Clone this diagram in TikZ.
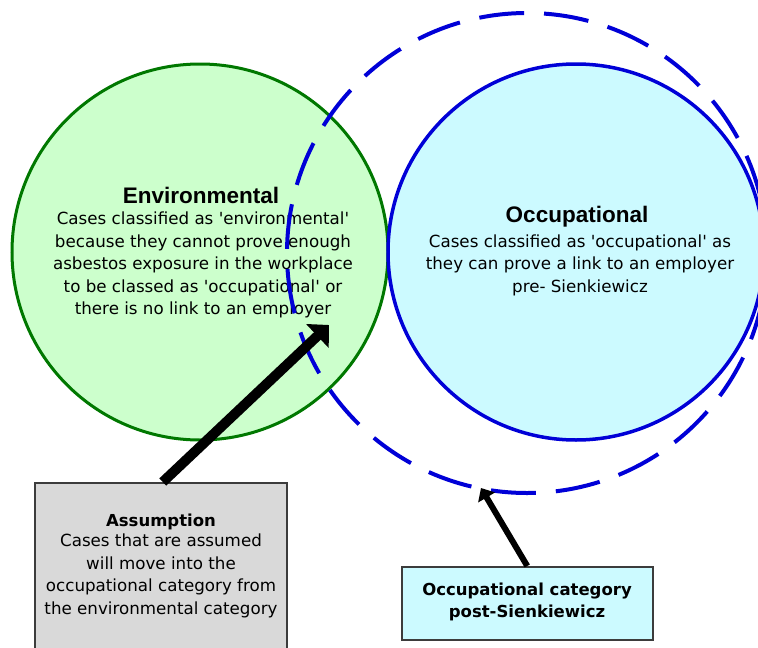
\documentclass[tikz,border=0pt]{standalone}
\usepackage{fontspec}
\setmainfont{DejaVu Sans}[Ligatures=TeXOff]
\newfontfamily\headfont{Liberation Sans}
\usetikzlibrary{arrows.meta}
\definecolor{envfill}{RGB}{204,255,204}
\definecolor{envline}{RGB}{0,120,0}
\definecolor{occfill}{RGB}{204,250,255}
\definecolor{occline}{RGB}{0,0,215}
\definecolor{grayfill}{RGB}{217,217,217}
\definecolor{boxline}{RGB}{60,60,60}
\tikzset{
  bodytext/.style={align=center, inner sep=0pt, font=\fontsize{16.7}{22.5}\selectfont},
  bighead/.style={inner sep=0pt, font=\headfont\bfseries\fontsize{22.5}{26}\selectfont},
  smallhead/.style={align=center, inner sep=0pt, font=\bfseries\fontsize{16.5}{21.5}\selectfont},
  bigcircle/.style={circle, inner sep=0pt, minimum size=376pt},
  callout/.style={draw=boxline, line width=1.5pt},
  bigarrow/.style={line width=10pt, -{Triangle[length=16pt,width=32pt]}},
  smallarrow/.style={line width=6pt, -{Triangle[length=11pt,width=19pt]}}
}
\begin{document}
\begin{tikzpicture}[x=1pt,y=-1pt]
\useasboundingbox (0,0) rectangle (758,648);
\clip (0,0) rectangle (758,648);
\fill[white] (0,0) rectangle (758,648);
% circles
\node[bigcircle, fill=envfill, draw=envline, line width=3pt] (env) at (200,252) {};
\node[bigcircle, fill=occfill, draw=occline, line width=3.5pt] (occ) at (576,252) {};
% texts in circles
\node[bighead] (envhead) at (201,195) {Environmental};
\node[bodytext] (envbody) at (203,265) {Cases classified as 'environmental'\\because they cannot prove enough\\asbestos exposure in the workplace\\to be classed as 'occupational' or\\there is no link to an employer};
\node[bighead] (occhead) at (577,217) {Occupational};
\node[bodytext] (occbody) at (580,265) {Cases classified as 'occupational' as\\they can prove a link to an employer\\pre- Sienkiewicz};
% dashed post-Sienkiewicz circle
\node[circle, inner sep=0pt, minimum size=480pt, draw=occline, line width=4pt,
      dash pattern=on 45pt off 20pt, dash phase=10pt] (post) at (527,253) {};
% callout boxes
\node[callout, fill=grayfill, minimum width=252pt, minimum height=190pt, anchor=north west] (assump) at (34,482) {};
\node[smallhead] (asshead) at (161,522) {Assumption};
\node[bodytext] (assbody) at (161,576) {Cases that are assumed\\will move into the\\occupational category from\\the environmental category};
\node[callout, fill=occfill, minimum width=251pt, minimum height=73pt, anchor=north west] (postbox) at (401,566) {};
\node[smallhead] (posttext) at (527,602) {Occupational category\\post-Sienkiewicz};
% arrows
\coordinate (tip1) at (329,325);
\coordinate (tip2) at (481,488);
\draw[bigarrow] ([xshift=2pt]assump.north) -- (tip1);
\draw[smallarrow] (postbox.north) -- (tip2);
\end{tikzpicture}
\end{document}
